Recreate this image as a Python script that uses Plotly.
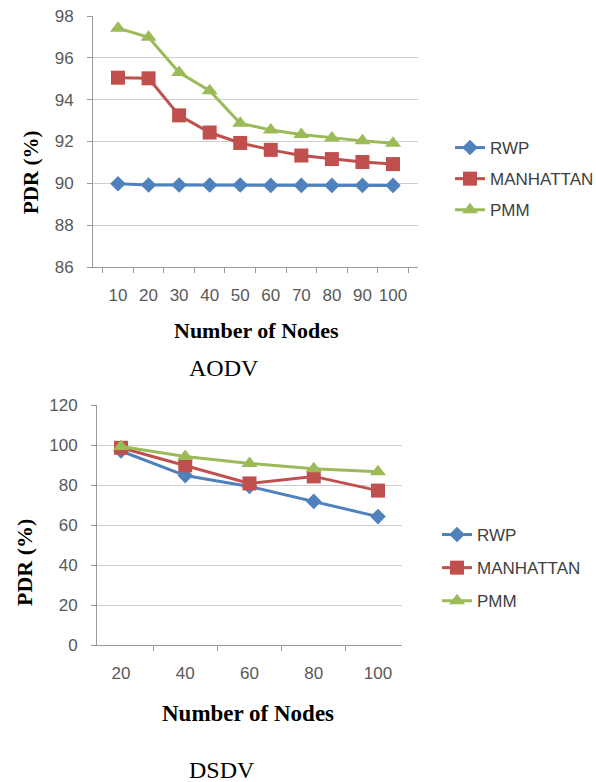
import plotly.graph_objects as go

# ---------------- data ----------------
aodv_nodes = ["10", "20", "30", "40", "50", "60", "70", "80", "90", "100"]
aodv_rwp = [89.98, 89.92, 89.92, 89.92, 89.92, 89.9, 89.9, 89.9, 89.9, 89.9]
aodv_manhattan = [95.05, 95.02, 93.25, 92.43, 91.93, 91.6, 91.33, 91.16, 91.02, 90.92]
aodv_pmm = [97.42, 96.98, 95.3, 94.43, 92.87, 92.55, 92.33, 92.17, 92.03, 91.92]

dsdv_nodes = ["20", "40", "60", "80", "100"]
dsdv_rwp = [97.0, 84.7, 79.3, 71.8, 64.2]
dsdv_manhattan = [98.6, 89.8, 80.8, 84.3, 77.2]
dsdv_pmm = [99.2, 94.3, 90.8, 88.1, 86.6]

series_names = ["RWP", "MANHATTAN", "PMM"]
colors = ["#4F81BD", "#C0504D", "#9BBB59"]
symbols = ["diamond", "square", "triangle-up"]
msizes = [12, 14, 14]

W, H = 596, 782
def px(x):
    return x / W
def py(y):
    return 1 - y / H

fig = go.Figure()

for i, (name, ys) in enumerate(zip(series_names, [aodv_rwp, aodv_manhattan, aodv_pmm])):
    fig.add_trace(go.Scatter(
        x=aodv_nodes, y=ys, name=name, mode="lines+markers",
        line=dict(color=colors[i], width=3),
        marker=dict(symbol=symbols[i], size=msizes[i], color=colors[i]),
        xaxis="x", yaxis="y", legend="legend", legendgroup="a" + name))

for i, (name, ys) in enumerate(zip(series_names, [dsdv_rwp, dsdv_manhattan, dsdv_pmm])):
    fig.add_trace(go.Scatter(
        x=dsdv_nodes, y=ys, name=name, mode="lines+markers",
        line=dict(color=colors[i], width=3),
        marker=dict(symbol=symbols[i], size=msizes[i], color=colors[i]),
        xaxis="x2", yaxis="y2", legend="legend2", legendgroup="d" + name))

tickfont = dict(family="Liberation Sans", size=17, color="#595959")
axis_common = dict(showline=True, linecolor="#9a9a9a", linewidth=1,
                   ticks="outside", ticklen=5, tickcolor="#9a9a9a",
                   tickfont=tickfont, zeroline=False, automargin=False)

legfont = dict(family="Liberation Sans", size=17, color="#404040")

fig.update_layout(
    width=W, height=H, margin=dict(l=0, r=0, t=0, b=0, autoexpand=False),
    paper_bgcolor="white", plot_bgcolor="white",
    xaxis=dict(domain=[px(93), px(418)], anchor="y", type="category",
               tickson="boundaries", showgrid=False, ticklabelstandoff=13,
               tickangle=0, **axis_common),
    yaxis=dict(domain=[py(267), py(16)], anchor="x", range=[86, 98], dtick=2,
               showgrid=True, gridcolor="#cfcfcf", gridwidth=1,
               ticklabelstandoff=10, **axis_common),
    xaxis2=dict(domain=[px(97), px(402)], anchor="y2", type="category",
                tickson="boundaries", showgrid=False, ticklabelstandoff=13,
                tickangle=0, **axis_common),
    yaxis2=dict(domain=[py(645), py(405)], anchor="x2", range=[0, 120], dtick=20,
                showgrid=True, gridcolor="#cfcfcf", gridwidth=1,
                ticklabelstandoff=10, **axis_common),
    legend=dict(x=px(450), y=py(130), xanchor="left", yanchor="top",
                font=legfont, traceorder="grouped", tracegroupgap=6,
                bgcolor="rgba(0,0,0,0)"),
    legend2=dict(x=px(437), y=py(517), xanchor="left", yanchor="top",
                 font=legfont, traceorder="grouped", tracegroupgap=8,
                 bgcolor="rgba(0,0,0,0)"),
    showlegend=True,
)

annots = [
    dict(text="<b>PDR (%)</b>", x=px(31), y=py(173), textangle=-90,
         font=dict(family="Liberation Serif", size=21, color="#000")),
    dict(text="<b>Number of Nodes</b>", x=px(256), y=py(330),
         font=dict(family="Liberation Serif", size=22, color="#000")),
    dict(text="AODV", x=px(224), y=py(368), font=dict(family="Liberation Serif", size=24, color="#000")),
    dict(text="<b>PDR (%)</b>", x=px(24), y=py(563), textangle=-90,
         font=dict(family="Liberation Serif", size=22, color="#000")),
    dict(text="<b>Number of Nodes</b>", x=px(248), y=py(713),
         font=dict(family="Liberation Serif", size=23, color="#000")),
    dict(text="DSDV", x=px(222), y=py(770), font=dict(family="Liberation Serif", size=24, color="#000")),
]
for a in annots:
    fig.add_annotation(xref="paper", yref="paper", showarrow=False,
                       xanchor="center", yanchor="middle", **a)

fig.write_html("out.html")
